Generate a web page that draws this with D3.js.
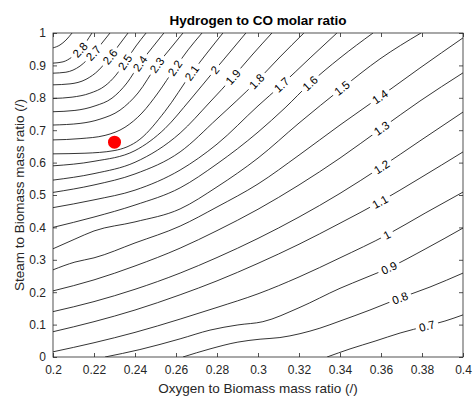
<!DOCTYPE html>
<html>
<head>
<meta charset="utf-8">
<script src="https://cdn.jsdelivr.net/npm/d3@7"></script>
<style>
  html, body { margin: 0; padding: 0; background: #fff; }
  svg { display: block; }
</style>
</head>
<body>
<svg id="chart" width="473" height="396"></svg>
<script>
// contour lines, points are [oxygen ratio, steam ratio]
const c07 = [[0.3337, 0], [0.3449, 0.025], [0.3571, 0.049], [0.3693, 0.074], [0.3824, 0.096], [0.3912, 0.111], [0.4, 0.130]];
const c08 = [[0.2634, 0], [0.2766, 0.025], [0.2902, 0.046], [0.3010, 0.055], [0.3107, 0.060], [0.3205, 0.072], [0.3302, 0.089], [0.34, 0.111], [0.3546, 0.145], [0.3693, 0.182], [0.3839, 0.216], [0.4, 0.259]];
const c09 = [[0.2254, 0], [0.2424, 0.023], [0.262, 0.056], [0.2766, 0.083], [0.2902, 0.099], [0.3024, 0.109], [0.32, 0.152], [0.34, 0.212], [0.3522, 0.244], [0.3639, 0.275], [0.3815, 0.333], [0.4, 0.398]];
const c10 = [[0.2, 0.016], [0.22, 0.044], [0.24, 0.076], [0.262, 0.117], [0.28, 0.153], [0.30, 0.195], [0.32, 0.247], [0.34, 0.306], [0.3629, 0.377], [0.3815, 0.444], [0.4, 0.509]];
const c11 = [[0.2, 0.078], [0.22, 0.109], [0.24, 0.145], [0.262, 0.192], [0.28, 0.235], [0.30, 0.289], [0.32, 0.348], [0.34, 0.413], [0.3595, 0.479], [0.379, 0.552], [0.4, 0.633]];
const c12 = [[0.2, 0.140], [0.22, 0.171], [0.24, 0.209], [0.262, 0.259], [0.28, 0.307], [0.30, 0.366], [0.32, 0.432], [0.34, 0.505], [0.3603, 0.587], [0.379, 0.667], [0.4, 0.756]];
const c13 = [[0.2, 0.204], [0.22, 0.238], [0.24, 0.281], [0.262, 0.336], [0.28, 0.390], [0.30, 0.456], [0.32, 0.531], [0.34, 0.614], [0.3603, 0.706], [0.379, 0.790], [0.4, 0.877]];
const c14 = [[0.2, 0.269], [0.2107, 0.293], [0.22, 0.306], [0.24, 0.352], [0.262, 0.404], [0.28, 0.463], [0.30, 0.534], [0.32, 0.623], [0.34, 0.716], [0.3595, 0.803], [0.379, 0.892], [0.4, 0.985]];
const c15 = [[0.2, 0.334], [0.2107, 0.364], [0.22, 0.389], [0.24, 0.417], [0.262, 0.457], [0.28, 0.525], [0.30, 0.614], [0.32, 0.722], [0.341, 0.830], [0.3595, 0.920], [0.3795, 1.0]];
const c16 = [[0.2, 0.400], [0.22, 0.432], [0.24, 0.469], [0.262, 0.522], [0.28, 0.596], [0.30, 0.694], [0.3132, 0.769], [0.3254, 0.845], [0.34, 0.923], [0.3561, 1.0]];
const c17 = [[0.2, 0.461], [0.22, 0.485], [0.24, 0.515], [0.262, 0.577], [0.28, 0.657], [0.30, 0.775], [0.3115, 0.840], [0.3254, 0.923], [0.3385, 1.0]];
const c18 = [[0.2, 0.508], [0.22, 0.531], [0.24, 0.565], [0.262, 0.633], [0.28, 0.735], [0.2994, 0.851], [0.3107, 0.926], [0.3224, 1.0]];
const c19 = [[0.2, 0.546], [0.22, 0.566], [0.24, 0.601], [0.262, 0.691], [0.2766, 0.787], [0.2878, 0.864], [0.2971, 0.932], [0.3068, 1.0]];
const c20 = [[0.2, 0.590], [0.22, 0.604], [0.24, 0.637], [0.2546, 0.705], [0.2668, 0.793], [0.279, 0.886], [0.2863, 0.941], [0.2941, 1.0]];
const c21 = [[0.2, 0.627], [0.2156, 0.629], [0.2298, 0.637], [0.2424, 0.672], [0.2546, 0.758], [0.2677, 0.877], [0.2751, 0.938], [0.2829, 1.0]];
const c22 = [[0.2, 0.670], [0.2132, 0.674], [0.2254, 0.684], [0.2351, 0.709], [0.2434, 0.753], [0.2512, 0.815], [0.2595, 0.892], [0.2659, 0.948], [0.2727, 1.0]];
const c23 = [[0.2, 0.716], [0.2132, 0.721], [0.2229, 0.734], [0.2327, 0.762], [0.2415, 0.815], [0.2507, 0.901], [0.2571, 0.951], [0.2634, 1.0]];
const c24 = [[0.2, 0.757], [0.2107, 0.761], [0.2205, 0.775], [0.2288, 0.799], [0.2361, 0.846], [0.2424, 0.906], [0.2483, 0.954], [0.2541, 1.0]];
const c25 = [[0.2, 0.798], [0.2093, 0.802], [0.218, 0.814], [0.2254, 0.837], [0.2307, 0.870], [0.2351, 0.910], [0.2405, 0.960], [0.2454, 1.0]];
const c26 = [[0.2, 0.840], [0.2083, 0.843], [0.2161, 0.857], [0.2224, 0.886], [0.2278, 0.927], [0.2322, 0.963], [0.2366, 1.0]];
const c27 = [[0.2, 0.876], [0.2063, 0.879], [0.2132, 0.898], [0.2197, 0.938], [0.2239, 0.969], [0.2278, 1.0]];
const c28 = [[0.2, 0.907], [0.2049, 0.911], [0.2093, 0.926], [0.2132, 0.948], [0.2161, 0.972], [0.219, 1.0]];
const c29 = [[0.2, 0.954], [0.2034, 0.963], [0.2063, 0.978], [0.2093, 1.0]];

const levels = [0.7, 0.8, 0.9, 1, 1.1, 1.2, 1.3, 1.4, 1.5, 1.6, 1.7, 1.8, 1.9, 2, 2.1, 2.2, 2.3, 2.4, 2.5, 2.6, 2.7, 2.8, 2.9];
const contourLines = [c07, c08, c09, c10, c11, c12, c13, c14, c15, c16, c17, c18, c19, c20, c21, c22, c23, c24, c25, c26, c27, c28, c29];
// oxygen ratio where each level carries its label (null = unlabelled)
const labelX = [0.3824, 0.3693, 0.3639, 0.3629, 0.3595, 0.3603, 0.3603, 0.3595, 0.341, 0.3254, 0.3115, 0.2994, 0.2878, 0.279,
  0.2677, 0.2595, 0.2507, 0.2424, 0.2351, 0.2278, 0.2197, 0.2132, null];

const xTicks = [0.2, 0.22, 0.24, 0.26, 0.28, 0.3, 0.32, 0.34, 0.36, 0.38, 0.4];
const yTicks = [0, 0.1, 0.2, 0.3, 0.4, 0.5, 0.6, 0.7, 0.8, 0.9, 1];
const operatingPoint = [0.23, 0.663];

const FONT = '"Liberation Sans", Arial, Helvetica, sans-serif';
const width = 473;
const height = 396;
const margin = { top: 33, right: 10, bottom: 39, left: 53 };
const innerW = width - margin.left - margin.right;
const innerH = height - margin.top - margin.bottom;

const x = d3.scaleLinear().domain([0.2, 0.4]).range([0, innerW]);
const y = d3.scaleLinear().domain([0, 1]).range([innerH, 0]);
const fmt = d3.format('~g');

const svg = d3.select('#chart').attr('font-family', FONT);
const defs = svg.append('defs');
const g = svg.append('g').attr('transform', `translate(${margin.left},${margin.top})`);

defs.append('clipPath').attr('id', 'plot-clip')
  .append('rect').attr('width', innerW).attr('height', innerH);

const line = d3.line()
  .x((d) => x(d[0]))
  .y((d) => y(d[1]))
  .curve(d3.curveMonotoneX);

const lineGroup = g.append('g').attr('clip-path', 'url(#plot-clip)');
const labelGroup = g.append('g').attr('font-size', 11.5).attr('fill', '#000');

// path length where the path reaches a given pixel x (lines run left to right)
function lengthAtX(node, px) {
  let lo = 0;
  let hi = node.getTotalLength();
  for (let i = 0; i < 30; i++) {
    const mid = (lo + hi) / 2;
    if (node.getPointAtLength(mid).x < px) lo = mid;
    else hi = mid;
  }
  return lo;
}

contourLines.forEach((pts, i) => {
  const path = lineGroup.append('path')
    .datum(pts)
    .attr('d', line)
    .attr('fill', 'none')
    .attr('stroke', '#000')
    .attr('stroke-width', 0.8);

  if (labelX[i] == null) return;

  /*
    put the label on the line, turned along it, and cut a gap
    out of this line only (a mask per line)
  */
  const node = path.node();
  const total = node.getTotalLength();
  const L = lengthAtX(node, x(labelX[i]));
  const p = node.getPointAtLength(L);
  const a = node.getPointAtLength(Math.max(0, L - 4));
  const b = node.getPointAtLength(Math.min(total, L + 4));
  const angle = Math.atan2(b.y - a.y, b.x - a.x) * 180 / Math.PI;
  const place = `translate(${p.x},${p.y}) rotate(${angle})`;

  const text = labelGroup.append('text')
    .attr('transform', place)
    .attr('text-anchor', 'middle')
    .attr('dy', '0.36em')
    .text(fmt(levels[i]));
  const w = text.node().getComputedTextLength() + 7;

  const mask = defs.append('mask')
    .attr('id', `gap-${i}`)
    .attr('maskUnits', 'userSpaceOnUse')
    .attr('x', -20).attr('y', -20)
    .attr('width', innerW + 40).attr('height', innerH + 40);
  mask.append('rect')
    .attr('x', -20).attr('y', -20)
    .attr('width', innerW + 40).attr('height', innerH + 40)
    .attr('fill', '#fff');
  mask.append('rect')
    .attr('x', -w / 2).attr('y', -6)
    .attr('width', w).attr('height', 12)
    .attr('transform', place)
    .attr('fill', '#000');
  path.attr('mask', `url(#gap-${i})`);
});

// the red operating point
g.append('circle')
  .attr('cx', x(operatingPoint[0]))
  .attr('cy', y(operatingPoint[1]))
  .attr('r', 6.5)
  .attr('fill', '#ff0000');

/*
  axes: ticks point inwards on all four sides (matlab box style),
  labels only on bottom and left
*/
const axisColor = '#262626';
function styleAxis(sel) {
  sel.attr('font-family', FONT).attr('font-size', 12).style('color', axisColor);
  sel.select('.domain').remove();
  sel.selectAll('.tick line').attr('stroke-width', 0.8);
}

g.append('g')
  .attr('transform', `translate(0,${innerH})`)
  .call(d3.axisBottom(x).tickValues(xTicks).tickSize(-4).tickPadding(8.5).tickFormat(fmt))
  .call(styleAxis);

g.append('g')
  .call(d3.axisTop(x).tickValues(xTicks).tickSize(-4).tickFormat(''))
  .call(styleAxis);

g.append('g')
  .call(d3.axisLeft(y).tickValues(yTicks).tickSize(-4).tickPadding(7).tickFormat(fmt))
  .call(styleAxis);

g.append('g')
  .attr('transform', `translate(${innerW},0)`)
  .call(d3.axisRight(y).tickValues(yTicks).tickSize(-4).tickFormat(''))
  .call(styleAxis);

g.append('rect')
  .attr('width', innerW)
  .attr('height', innerH)
  .attr('fill', 'none')
  .attr('stroke', axisColor)
  .attr('stroke-width', 0.8);

// titles
svg.append('text')
  .attr('x', margin.left + innerW / 2)
  .attr('y', 24.5)
  .attr('text-anchor', 'middle')
  .attr('font-size', 13.5)
  .attr('font-weight', 'bold')
  .attr('fill', '#000')
  .text('Hydrogen to CO molar ratio');

svg.append('text')
  .attr('x', margin.left + innerW / 2)
  .attr('y', height - 3.5)
  .attr('text-anchor', 'middle')
  .attr('font-size', 13.5)
  .attr('fill', axisColor)
  .text('Oxygen to Biomass mass ratio (/)');

svg.append('text')
  .attr('transform', `translate(24,${margin.top + innerH / 2}) rotate(-90)`)
  .attr('text-anchor', 'middle')
  .attr('font-size', 13.5)
  .attr('fill', axisColor)
  .text('Steam to Biomass mass ratio (/)');
</script>
</body>
</html>
